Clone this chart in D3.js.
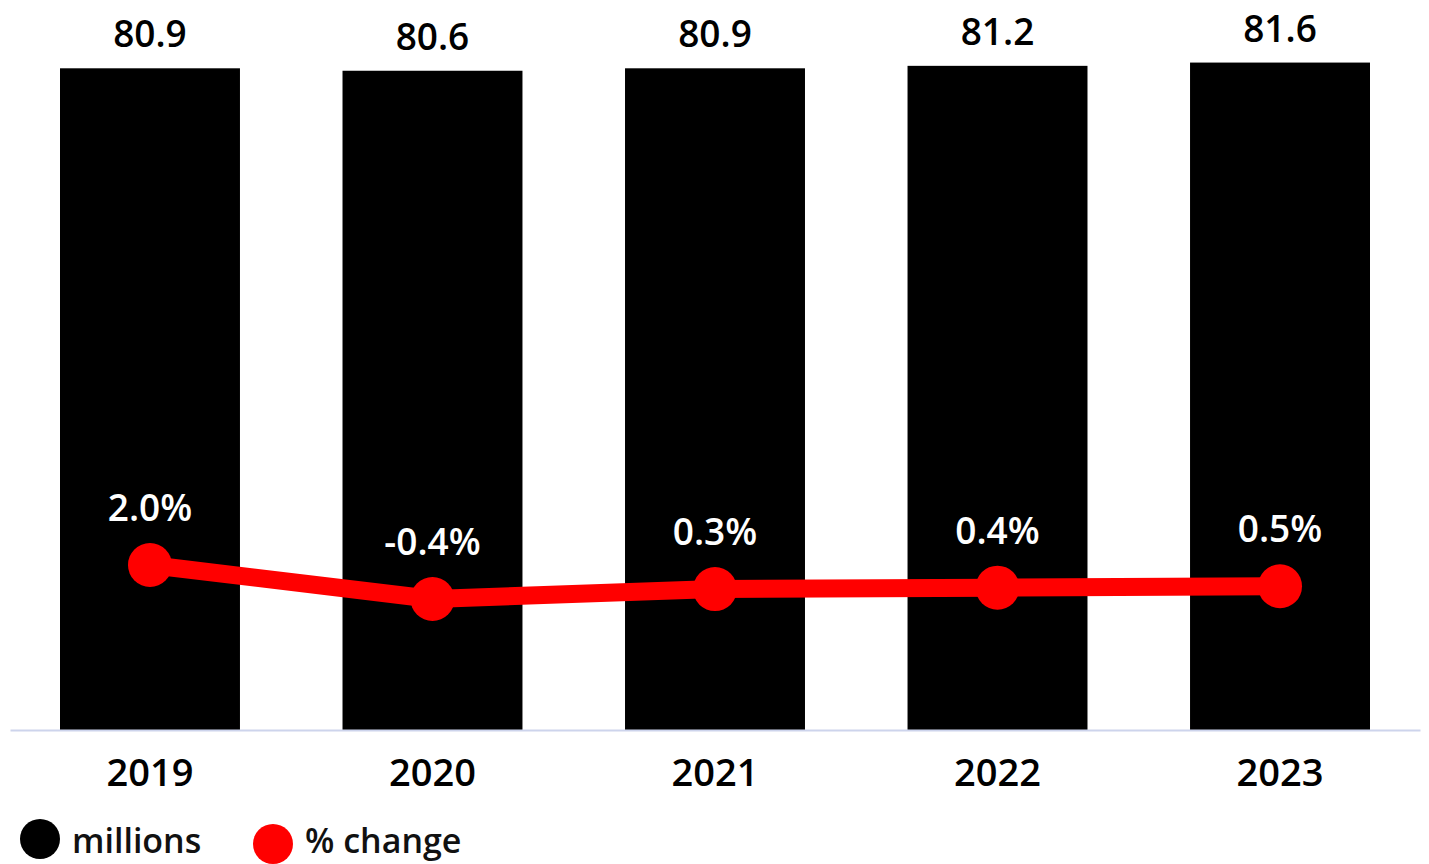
<!DOCTYPE html>
<html>
<head>
<meta charset="utf-8">
<script src="https://cdn.jsdelivr.net/npm/d3@7"></script>
<style>
  html, body { margin: 0; padding: 0; background: #fff; }
  svg { display: block; }
  text { font-family: "Open Sans", sans-serif; }
</style>
</head>
<body>
<svg id="chart" width="1429" height="864"></svg>
<script>
const years = ["2019", "2020", "2021", "2022", "2023"];
const millions = [80.9, 80.6, 80.9, 81.2, 81.6];
const pctChange = [2.0, -0.4, 0.3, 0.4, 0.5];
const legendLabels = ["millions", "% change"];

const svg = d3.select("#chart");
const baseY = 730;

const x = d3.scaleBand()
  .domain(years)
  .range([10, 1420])
  .paddingInner(0.363)
  .paddingOuter(0.177);

const y = d3.scaleLinear().domain([0, 89.25]).range([baseY, 0]);
const yPct = d3.scaleLinear().domain([-0.4, 2.0]).range([599, 565]);

// bars
svg.append("g").selectAll("rect")
  .data(years)
  .join("rect")
  .attr("x", d => x(d))
  .attr("y", (d, i) => y(millions[i]))
  .attr("width", x.bandwidth())
  .attr("height", (d, i) => baseY - y(millions[i]))
  .attr("fill", "#000");

// bar value labels
svg.append("g").selectAll("text")
  .data(years)
  .join("text")
  .attr("x", d => x(d) + x.bandwidth() / 2)
  .attr("y", (d, i) => y(millions[i]) - 21)
  .attr("text-anchor", "middle")
  .attr("font-size", 37)
  .attr("font-weight", 600)
  .attr("fill", "#000")
  .text((d, i) => millions[i].toFixed(1));

// axis
const axis = svg.append("g")
  .attr("transform", `translate(0,${baseY})`)
  .call(d3.axisBottom(x).tickSize(0).tickSizeOuter(0).tickPadding(29));
axis.select(".domain").attr("stroke", "#cdd4ec").attr("stroke-width", 2);
axis.selectAll(".tick text")
  .attr("font-size", 38)
  .attr("font-weight", 600)
  .attr("fill", "#000")
  .style("font-family", "'Open Sans', sans-serif");

// line
const cx = d => x(d) + x.bandwidth() / 2;
const line = d3.line()
  .x(d => cx(d))
  .y((d, i) => yPct(pctChange[i]));
svg.append("path")
  .datum(years)
  .attr("d", line)
  .attr("fill", "none")
  .attr("stroke", "#ff0000")
  .attr("stroke-width", 18)
  .attr("stroke-linejoin", "round");

svg.append("g").selectAll("circle")
  .data(years)
  .join("circle")
  .attr("cx", d => cx(d))
  .attr("cy", (d, i) => yPct(pctChange[i]))
  .attr("r", 22)
  .attr("fill", "#ff0000");

svg.append("g").selectAll("text")
  .data(years)
  .join("text")
  .attr("x", d => cx(d))
  .attr("y", (d, i) => yPct(pctChange[i]) - 44)
  .attr("text-anchor", "middle")
  .attr("font-size", 37)
  .attr("font-weight", 600)
  .attr("fill", "#fff")
  .text((d, i) => pctChange[i].toFixed(1) + "%");

// legend
const legendColors = ["#000", "#ff0000"];
const legendX = [40, 273];
const legendCy = [839, 844];
const lg = svg.append("g");
legendLabels.forEach((lab, i) => {
  lg.append("circle")
    .attr("cx", legendX[i]).attr("cy", legendCy[i]).attr("r", 20)
    .attr("fill", legendColors[i]);
  lg.append("text")
    .attr("x", legendX[i] + 32).attr("y", 853)
    .attr("font-size", 34).attr("font-weight", 600)
    .attr("fill", "#111")
    .text(lab);
});
</script>
</body>
</html>
